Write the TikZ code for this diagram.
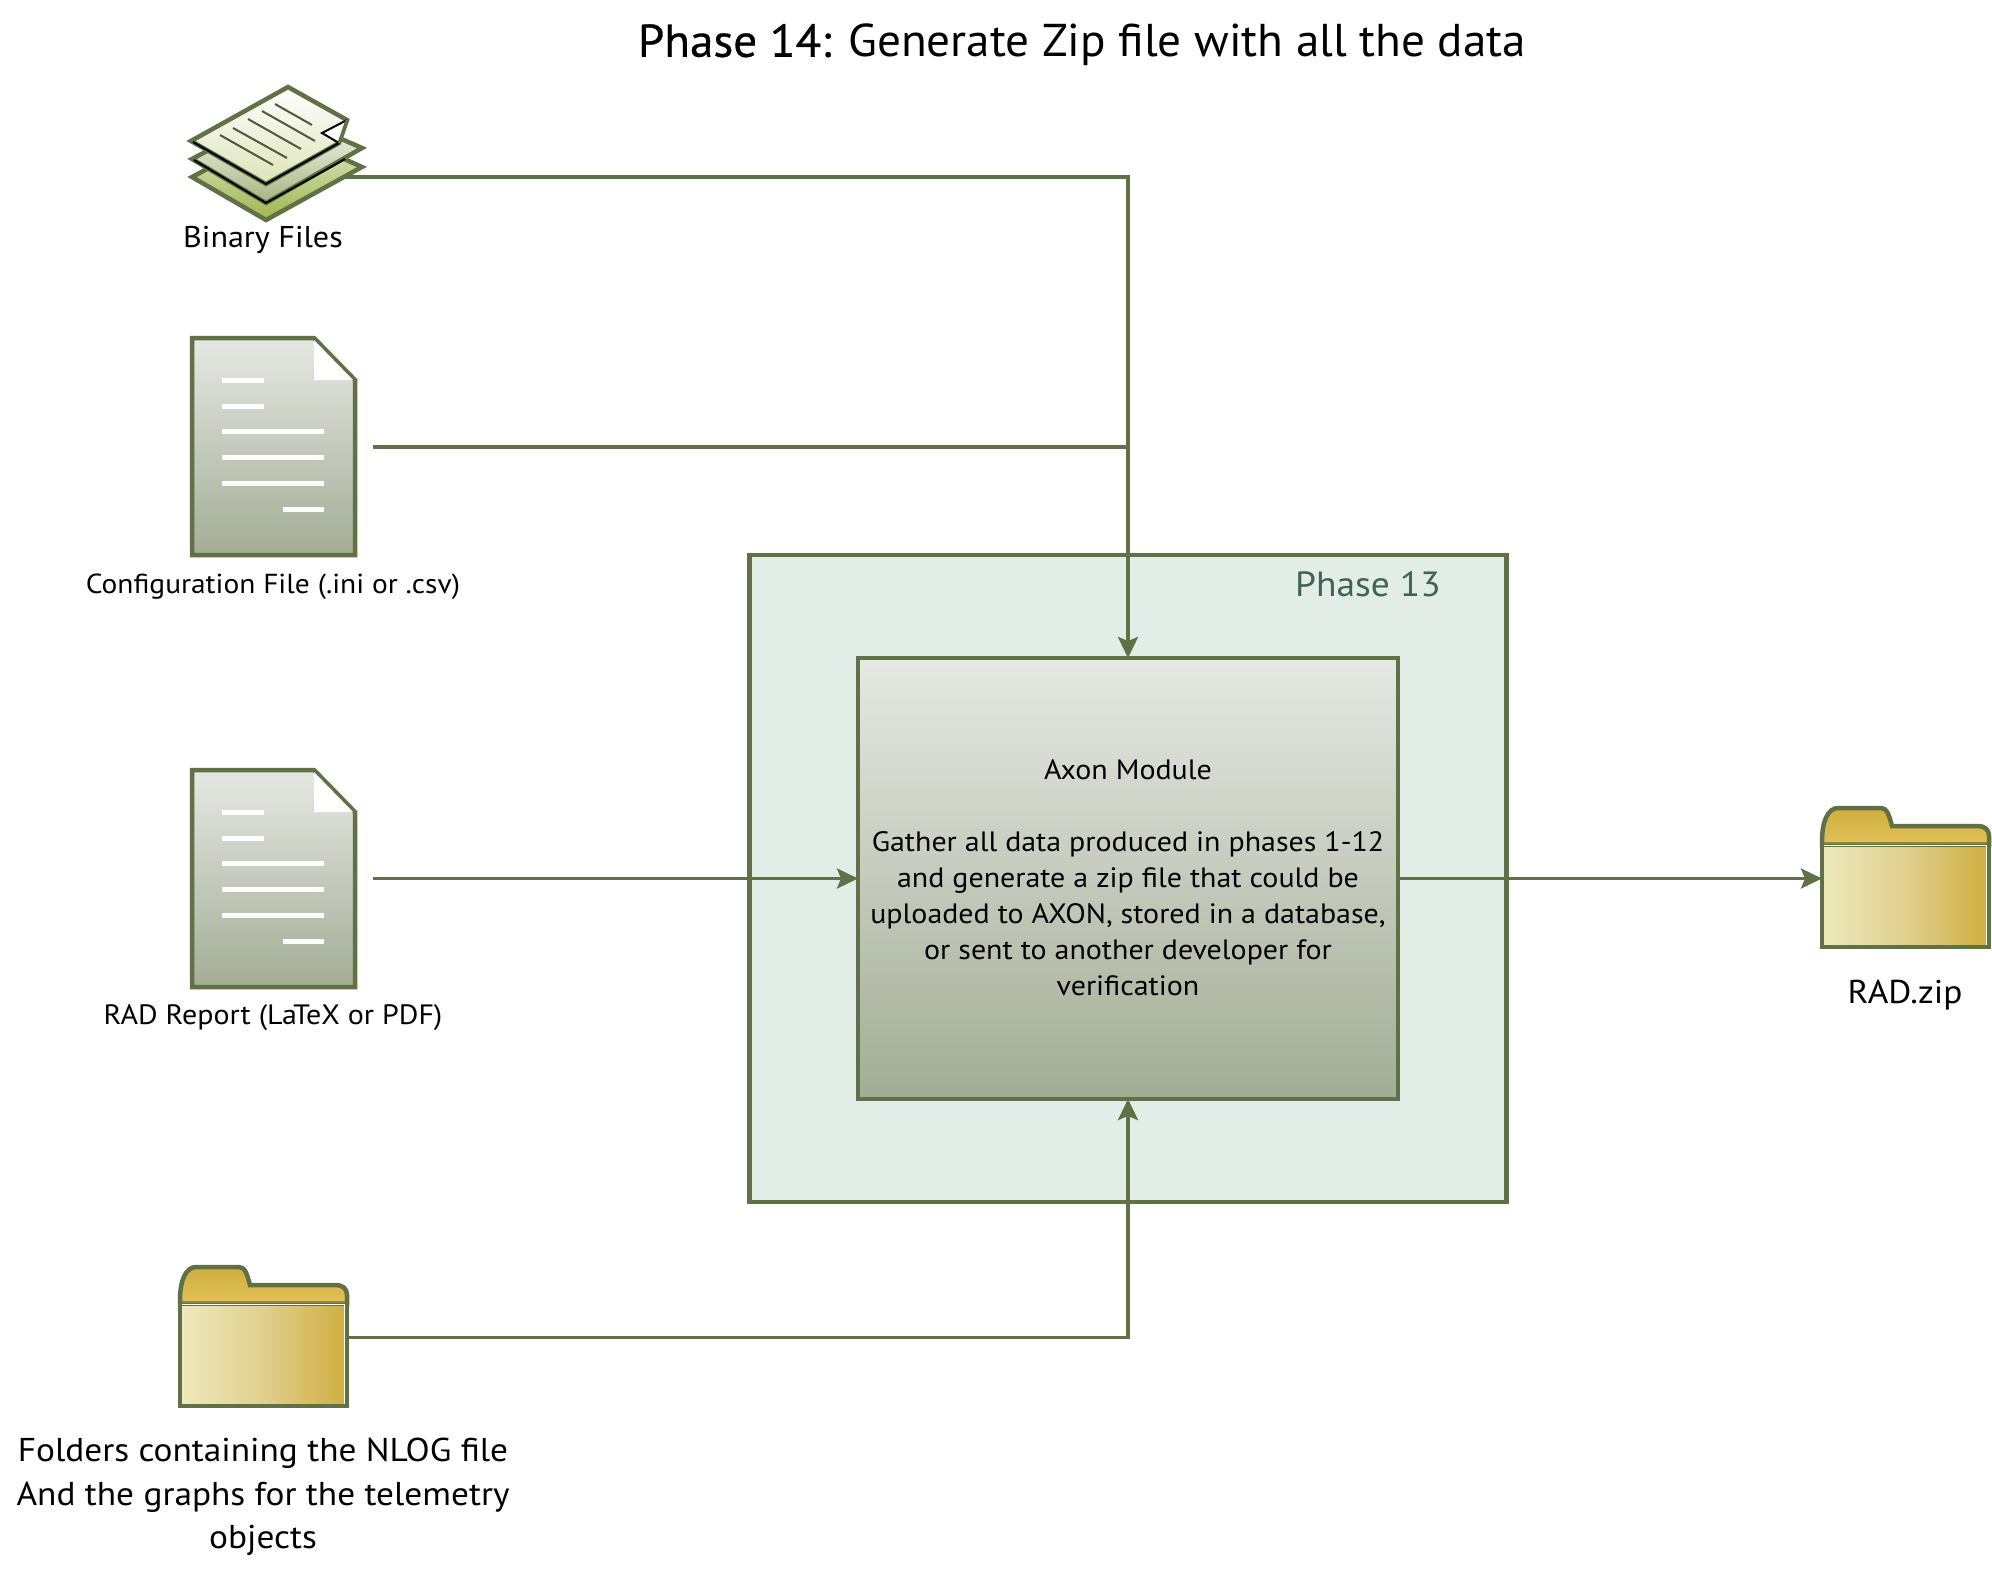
\documentclass[tikz,border=0pt]{standalone}
\usepackage{fontspec}
\usetikzlibrary{arrows.meta}
\setmainfont[FakeStretch=1.07]{PT Sans}
\newfontfamily\titlefont[FakeStretch=1.025]{PT Sans}
\newfontfamily\titlebold[FakeStretch=1.025,FakeBold=0.6]{PT Sans}
\definecolor{edge}{HTML}{5F7145}
\definecolor{ptxt}{HTML}{3F6355}
\definecolor{phasebg}{HTML}{E1EDE6}
\definecolor{doctop}{HTML}{E6E8E3}
\definecolor{docbot}{HTML}{A3AD95}
\definecolor{foldl}{HTML}{EEEABD}
\definecolor{foldm}{HTML}{E0CF8E}
\definecolor{foldr}{HTML}{CFAE3E}
\definecolor{tabc}{HTML}{CFAE3E}
\definecolor{tabd}{HTML}{E2C25A}
\definecolor{sheetc}{HTML}{A0B650}
\definecolor{sheett}{HTML}{E4EBD2}
\definecolor{sheetb}{HTML}{A5B580}
\definecolor{sheeta}{HTML}{DDE3B8}
\tikzset{
 x=1pt,y=-1pt,
 conn/.style={draw=edge,line width=3.3pt,-{Stealth[length=21pt,width=20pt,inset=4pt]}},
 plainconn/.style={draw=edge,line width=3.3pt},
 docshape/.style={draw=edge,line width=4.5pt,top color=doctop,bottom color=docbot,line join=miter},
 lbl/.style={inner sep=0pt,align=center,text=black},
 anchorbox/.style={inner sep=0pt,minimum size=0pt,outer sep=0pt},
 whiteln/.style={draw=white,line width=5pt},
}
\newcommand{\docicon}[1]{%
 \begin{scope}[yshift=#1pt]
 \path[docshape] (192,338)--(314,338)--(355,380)--(355,555)--(192,555)--cycle;
 \fill[white] (314,340)--(314,380)--(353,380)--cycle;
 \foreach \yy in {380,406}{\draw[whiteln] (222,\yy)--(264,\yy);}
 \foreach \yy in {431,457,483}{\draw[whiteln] (222,\yy)--(324,\yy);}
 \draw[whiteln] (283,509)--(324,509);
 \end{scope}}
\newcommand{\foldericon}[2]{%
 \begin{scope}[xshift=#1pt,yshift=#2pt]
 \path[draw=edge,line width=4.5pt,top color=tabc,bottom color=tabd]
   (180,1300)..controls (180,1280) and (186,1267) .. (196,1267)--(239,1267)
   ..controls (245,1267) and (247,1274) .. (250,1285)--(336,1285)
   ..controls (343,1285) and (347,1289) .. (347,1295)--(347,1304)--(180,1304)--cycle;
 \path[draw=edge,line width=4.5pt,left color=foldl,right color=foldr,middle color=foldm] (180,1304) rectangle (347,1406);
 \draw[draw=foldr!75!black,line width=2.5pt] (182,1302)--(345,1302);
 \draw[white,line width=1.2pt] (182,1304.5)--(344.5,1304.5)--(344.5,1403.5);
 \end{scope}}
\begin{document}
\begin{tikzpicture}
\useasboundingbox (0,0) rectangle (1992,1575);
\fill[white] (0,0) rectangle (1992,1575);
% title
\node[lbl,font=\fontsize{46}{50}\titlefont] (title) at (1082,45) {{\titlebold Phase 14:} Generate Zip file with all the data};
% phase box
\node[draw=edge,line width=4.5pt,fill=phasebg,minimum width=757pt,minimum height=647pt,inner sep=0pt,outer sep=0pt] (phase) at (1128,878.5) {};
\node[lbl,text=ptxt,font=\fontsize{35}{36}\selectfont] (phasel) at (1368,584) {Phase 13};
% axon module
\node[draw=edge,line width=4.5pt,top color=doctop,bottom color=docbot,minimum width=540pt,minimum height=441pt,inner sep=0pt,outer sep=0pt] (axon) at (1128,878.5) {};
\node[lbl,font=\fontsize{28}{36}\selectfont] (axonl) at (1128,878) {Axon Module\\[36pt]Gather all data produced in phases 1-12\\and generate a zip file that could be\\uploaded to AXON, stored in a database,\\or sent to another developer for\\verification};
% stack icon
\begin{scope}[line join=miter]
\path[draw=edge,line width=4.5pt,top color=sheett,bottom color=sheetc] (192,177)--(280,130)--(362,167)--(266,220)--cycle;
\path[draw=edge,line width=4.5pt,top color=white,bottom color=sheetb] (192,159)--(280,112)--(362,148)--(266,203)--cycle;
\draw[black,line width=2pt] (194,160)--(266,203)--(345,159);
\path[draw=edge,line width=4.5pt,top color=white,bottom color=sheeta] (191,141)--(288,87)--(347,120)--(339,143)--(266,184)--cycle;
\draw[black,line width=2pt] (193,142)--(266,184)--(339,143);
\foreach \xa/\ya/\xb/\yb in {220/135/273/165,233/128/287/158,248/119/301/149,262/111/315/141,275/104/312/125}{\draw[edge!80!black,line width=2pt] (\xa,\ya)--(\xb,\yb);}
\fill[white] (322,133)--(347,120)--(339,143)--cycle;
\draw[black,line width=2pt] (347,120)--(322,133)--(339,143);
\draw[edge,line width=3pt] (347,120)--(339,143);
\end{scope}
\node[anchorbox] (binary) at (345,177) {};
\node[lbl,font=\fontsize{30}{36}\selectfont] (binaryl) at (263,240) {Binary Files};
% doc icons
\docicon{0}
\docicon{-432}
\node[anchorbox] (config) at (373,447) {};
\node[anchorbox] (rad) at (373,878.5) {};
\node[lbl,font=\fontsize{27.5}{32}\selectfont] (configl) at (273,587) {Configuration File (.ini or .csv)};
\node[lbl,font=\fontsize{28}{32}\selectfont] (radl) at (273,1018) {RAD Report (LaTeX or PDF)};
% folders
\foldericon{0}{0}
\foldericon{1642}{459}
\node[anchorbox] (folder) at (347,1337.5) {};
\node[anchorbox] (zip) at (1822,878.5) {};
\node[lbl,font=\fontsize{33}{43.5}\selectfont] (folderl) at (263,1497) {Folders containing the NLOG file\\And the graphs for the telemetry\\objects};
\node[lbl,font=\fontsize{33}{36}\selectfont] (zipl) at (1905,995) {RAD.zip};
% connectors
\coordinate (j) at (axon.north |- config);
\draw[conn] (binary) -| (axon.north);
\draw[plainconn] (config) -- (j);
\draw[conn] (rad) -- (rad -| axon.west);
\draw[conn] (folder) -| (axon.south);
\draw[conn] (axon.east |- zip) -- (zip);
\end{tikzpicture}
\end{document}
